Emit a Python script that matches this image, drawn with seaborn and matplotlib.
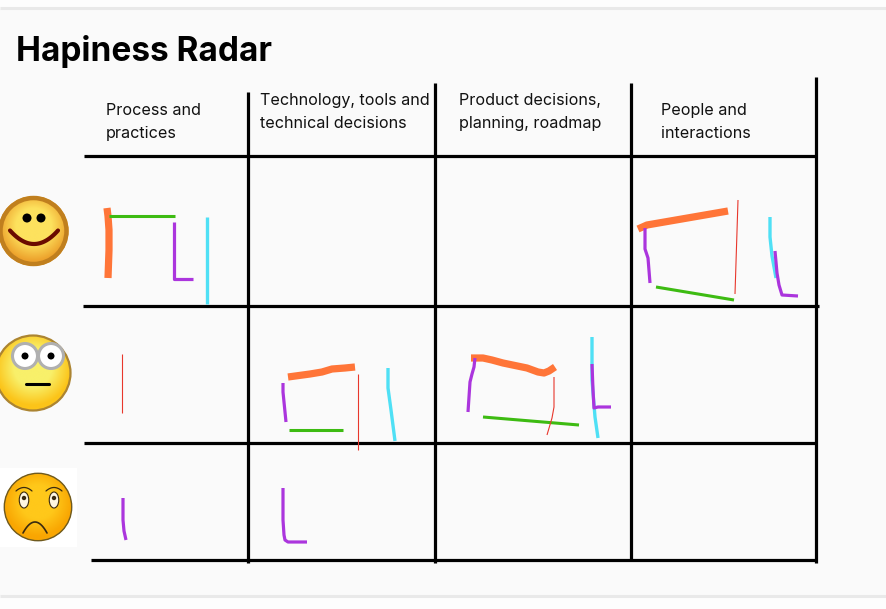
import numpy as np
import pandas as pd
import matplotlib
matplotlib.use("Agg")
import matplotlib.pyplot as plt
from matplotlib.colors import LinearSegmentedColormap
from matplotlib.patches import Circle, Ellipse, Rectangle
import seaborn as sns

# hand drawn board, everything read in image pixels
column_titles = ["Process and\npractices", "Technology, tools and\ntechnical decisions",
                 "Product decisions,\nplanning, roadmap", "People and\ninteractions"]
title_x = [106, 260, 459, 661]
title_y = [122, 112, 112, 122]

# (x values, y values) of each pen stroke
orange_strokes = [
    ([107, 108, 109, 109, 108], [208, 216, 230, 250, 278]),
    ([288, 310, 322, 332, 345, 355], [377, 374, 372, 369, 368, 367]),
    ([471, 483, 492, 503, 527, 538, 544, 549, 555], [358, 358, 360, 363, 368, 372, 373, 371, 367]),
    ([638, 647, 728], [229, 225, 211]),
]
green_strokes = [
    ([109, 175], [216, 216]),
    ([289, 343], [430, 430]),
    ([483, 579], [417, 425]),
    ([656, 734], [287, 300]),
]
purple_strokes = [
    ([174, 174, 193], [222, 279, 279]),
    ([645, 645, 648, 650], [228, 249, 258, 283]),
    ([775, 777, 779, 782, 798], [251, 273, 285, 295, 296]),
    ([283, 283, 284, 286], [383, 392, 402, 422]),
    ([475, 474, 472, 470, 468], [358, 367, 374, 382, 412]),
    ([592, 593, 594, 598, 611], [364, 390, 408, 407, 407]),
    ([123, 123, 124, 126], [498, 520, 531, 540]),
    ([283, 283, 284, 285, 288, 307], [488, 520, 535, 540, 542, 542]),
]
cyan_strokes = [
    ([207, 207], [217, 304]),
    ([770, 770, 772, 776], [217, 237, 256, 278]),
    ([388, 388, 391, 395], [368, 388, 410, 441]),
    ([592, 592, 595, 598], [337, 380, 417, 438]),
]
red_strokes = [
    ([738, 735], [200, 294]),
    ([122.5, 122.5], [354, 413]),
    ([358, 358], [374, 450]),
    ([554, 554, 552, 547], [377, 407, 418, 435]),
]

h_rules = [156, 305.5, 443, 559.5]
h_rules_start = [84, 83, 84, 91]
h_rules_end = [816, 819, 815, 816]
v_rules = [248, 435, 631, 816]
v_rules_start = [92, 83, 83, 77]
v_rules_end = [563, 563, 559, 563]

sns.set_theme(style="white")
plt.rcParams["font.family"] = ["Inter", "DejaVu Sans"]

fig = plt.figure(figsize=(8.87, 6.09), dpi=100, facecolor="#fdfdfd")
ax = fig.add_axes([0, 0, 1, 1])
ax.set_facecolor("#fafafa")

# card behind the chart
ax.add_patch(Rectangle((0, 9), 887, 587, fc="#fafafa", ec="none", zorder=0))
ax.hlines([8, 596], 0, 887, color="#e9e9e9", lw=2.2, zorder=1)


def draw_strokes(strokes, color, width):
    for xs, ys in strokes:
        df = pd.DataFrame({"x": xs, "y": ys})
        sns.lineplot(data=df, x="x", y="y", ax=ax, sort=False, estimator=None,
                     color=color, linewidth=width, solid_capstyle="butt",
                     solid_joinstyle="round", zorder=4)


def shaded_face(cx, cy, r, inner, outer):
    cmap = LinearSegmentedColormap.from_list("face", [inner, inner, outer])
    gx, gy = np.meshgrid(np.linspace(-1, 1, 200), np.linspace(-1, 1, 200))
    dist = np.clip(np.hypot(gx, gy + 0.15), 0, 1)
    im = ax.imshow(dist, cmap=cmap, extent=(cx - r, cx + r, cy + r, cy - r),
                   aspect="auto", zorder=3, vmin=0, vmax=1)
    im.set_clip_path(Circle((cx, cy), r, transform=ax.transData))


# top face
shaded_face(33.5, 231, 35, "#fde25e", "#eda22c")
ax.add_patch(Circle((33.5, 231), 33, fc="none", ec="#c07f1e", lw=3.2, zorder=4))
ax.add_patch(Circle((27, 218), 4.5, fc="black", ec="none", zorder=5))
ax.add_patch(Circle((41, 218), 4.5, fc="black", ec="none", zorder=5))
smile_t = np.linspace(-1, 1, 30)
ax.plot(34 + 24 * smile_t, 244 - 13.5 * smile_t ** 2, color="#6b0a00", lw=3, zorder=5)

# middle face
shaded_face(33, 373, 38, "#f8f06a", "#fcc419")
ax.add_patch(Circle((33, 373), 37.5, fc="none", ec="#ab8432", lw=1.6, zorder=4))
for ex in [25, 51]:
    ax.add_patch(Circle((ex, 356), 12.5, fc="white", ec="#b0b0b0", lw=2.2, zorder=5))
    ax.add_patch(Circle((ex, 356), 3.5, fc="black", ec="none", zorder=6))
ax.plot([26, 49], [384, 384], color="black", lw=2.2, zorder=5)

# bottom face on its white square
ax.add_patch(Rectangle((0, 468), 77, 79, fc="white", ec="none", zorder=2))
shaded_face(38, 507, 34, "#ffc81a", "#f9a602")
ax.add_patch(Circle((38, 507), 33.7, fc="none", ec="#6e5a20", lw=1, zorder=4))
for ex in [24, 54]:
    ax.add_patch(Ellipse((ex, 500), 9.5, 16, fc="#fff6e0", ec="#3a2a10", lw=0.8, zorder=5))
    ax.add_patch(Circle((ex, 498), 2.2, fc="#3a2a10", ec="none", zorder=6))
    brow_t = np.linspace(-1, 1, 20)
    ax.plot(ex + 8 * brow_t, 491 - 3.5 * (1 - brow_t ** 2), color="#3a2a10", lw=0.9, zorder=5)
frown_t = np.linspace(-1, 1, 20)
ax.plot(35 + 12 * frown_t, 533 - 11 * (1 - frown_t ** 2), color="#3a2a10", lw=1.2, zorder=5)

# board rules
ax.hlines(h_rules, h_rules_start, h_rules_end, color="black", lw=2.3, zorder=3)
ax.vlines(v_rules, v_rules_start, v_rules_end, color="black", lw=2.3, zorder=3)

draw_strokes(orange_strokes, "#ff7538", 5.2)
draw_strokes(green_strokes, "#3dbb12", 2.2)
draw_strokes(cyan_strokes, "#4fe0f5", 2.4)
draw_strokes(red_strokes, "#e8372c", 0.8)
draw_strokes(purple_strokes, "#ab35dd", 2.3)

ax.text(16, 52, "Hapiness Radar", fontsize=24, fontweight="bold", color="black",
        ha="left", va="center")
for label, tx, ty in zip(column_titles, title_x, title_y):
    ax.text(tx, ty, label, fontsize=11.6, color="#111111", ha="left", va="center", linespacing=1.62)

ax.set_xlim(0, 887)
ax.set_ylim(609, 0)
ax.set_xlabel("")
ax.set_ylabel("")
ax.axis("off")

fig.savefig("out.png", dpi=100, facecolor=fig.get_facecolor())
